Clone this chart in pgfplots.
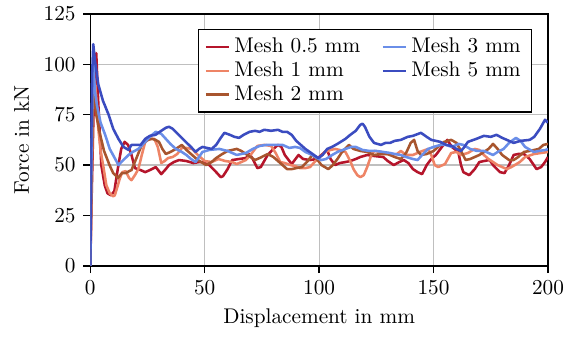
\documentclass[border=0pt]{standalone}
\usepackage{pgfplots}
\pgfplotsset{compat=1.18}
\definecolor{mA}{HTML}{B5152B}
\definecolor{mB}{HTML}{EE8466}
\definecolor{mC}{HTML}{A8552E}
\definecolor{mD}{HTML}{6A8EE8}
\definecolor{mE}{HTML}{3B4CC0}
\begin{document}
\begin{tikzpicture}
\begin{axis}[
  scale only axis,
  width=215.3pt, height=118.5pt,
  xmin=0, xmax=200, ymin=0, ymax=125,
  xtick={0,50,100,150,200},
  ytick={0,25,50,75,100,125},
  tick pos=left, tick align=outside,
  major tick length=3.4pt,
  axis line style={line width=0.7pt},
  every tick/.style={black, line width=0.7pt},
  grid=major,
  major grid style={gray!50, line width=0.6pt},
  xlabel={Displacement in mm},
  ylabel={Force in kN},
  legend image code/.code={\draw[#1] (0cm,0cm) -- (0.38cm,0cm);},
  legend style={at={(0.965,0.94)}, anchor=north east, draw=black, line width=0.6pt, fill=white, font=\normalsize, cells={anchor=west}, row sep=-1.3pt, /tikz/every even column/.append style={column sep=8pt}},
  transpose legend,
  legend columns=3,
  every axis plot/.append style={line width=1.2pt, line join=round},
]
\addplot[mA] coordinates {(0,0) (0.5,30) (1.5,80) (2.6,105.5) (3.4,83) (4.8,50) (6.3,40) (7.5,36) (9,35) (10.5,37) (12,48) (13.5,58) (15,61.5) (16.5,60) (18,55) (19.5,48.5) (22,47.5) (24,46.5) (26,47.5) (28.6,49) (30,47) (31,45.5) (33,48) (34.4,50) (36.5,51.5) (38.8,52.5) (42,52) (45,51) (47.6,51.5) (49,51.5) (52,50) (55,46.5) (57,44) (58,44.5) (60,48) (62,52.5) (65,53) (68,53.5) (69.6,55.5) (71,53) (73,48.5) (74.5,49) (77.5,55) (80,58) (82,60) (83.5,59) (85,55) (88,50.5) (91,55) (93,53) (96,52.5) (99,53) (101,55) (103.5,57.5) (105,53) (107,50) (109,51) (111.5,51.5) (113.6,52) (116,53) (118,54) (121,55) (124,54.5) (128,54) (130,52) (132.6,50) (135,51.5) (137,52.5) (139,51) (141,48) (143,46.5) (145,45.5) (147,50) (149,53) (151,55) (153,58) (156,62.5) (158,59) (160.8,56.5) (162,50) (163,46.5) (165.6,45) (168,48) (170,51.5) (172,52) (174.5,52.5) (176,50) (179,46.5) (181,46) (183,50) (185,55) (187,55.5) (189.5,55.5) (192,53) (195,48) (197,49) (198.7,51.5) (200,54)};
\addlegendentry{Mesh 0.5 mm}
\addplot[mB] coordinates {(0,0) (0.5,35) (1.2,80) (1.8,92) (2.5,85) (3.5,68) (4.5,57) (5.6,50) (7,40) (8.5,36) (10,34.5) (10.7,35) (11.8,39) (12.8,43) (14,46.5) (15.5,47) (17,43.5) (18,42.5) (19.5,45) (21,48) (22.5,55) (24,61.5) (26,63) (28,63) (29.5,59) (31,51) (32.5,52) (34,53.5) (36,54) (38,55.5) (40,58.5) (42,58.5) (44.5,58) (47,55) (50,52) (53,51.5) (56,53) (59,52) (62,51.5) (64,50.5) (66,51.5) (68,52.5) (70,55) (73,59.5) (76,60) (79,59.5) (81,56) (83,51.5) (85,51) (87.5,50) (89.5,49.5) (91.6,48.5) (94,48.5) (96,49) (98,51.5) (100.4,54) (102.6,56.5) (105,57.5) (107,58) (109,57.5) (111.5,56.5) (113.6,52) (115,48) (116.7,45) (118,44) (119.5,45) (121,49) (122.5,54) (124,57) (127,56.5) (131,55) (134,55.5) (135.7,57) (138,55) (141,55) (144,56.5) (147.6,58) (149,55) (150.5,50) (152,49) (155,50.5) (157.7,56) (160,56.5) (162,55) (165,56) (168,58) (170,57.5) (172,55) (174,53) (176,51.5) (178,50) (180,49) (182,48) (184,49) (187.7,51.5) (190,54) (194,55.5) (197,56) (200,56.5)};
\addlegendentry{Mesh 1 mm}
\addplot[mC] coordinates {(0,0) (0.5,40) (1.2,85) (1.6,92) (2.6,75) (4,66.5) (6,57) (8.4,50) (10,46) (11,45) (12,43.5) (13.8,46) (15.5,46) (17,47) (18,47.5) (20,53) (22.5,60) (25,62.5) (27,63) (28.5,62.5) (30,61.5) (31.5,58) (33,55.5) (35,56.5) (37.4,58) (40,60) (42,57.5) (44.5,55) (47,52.5) (50.6,50) (53,51.5) (55,53.5) (57.7,55.5) (60,57) (64,58) (66,57) (68,55.5) (70,54) (72,52.5) (74,53.5) (77.5,55.5) (80,54) (83,51) (86,48) (88,48) (90,48.5) (92.5,49) (95,52) (97,55) (99,53) (101,50) (104,48) (106,50) (108,53) (110,56.5) (113,60) (115,58) (118,57) (121,56.5) (124,55) (127,55.5) (130,55.5) (133,54) (135.7,53) (138,56) (140,61) (141.5,62.5) (143,57) (144.5,55) (147,55.5) (150,57) (152,59) (154.6,61.5) (157.7,62.5) (160,61) (162,57) (164,52.5) (166,53) (168,54) (170,55) (172,56.5) (174,58) (176,60.5) (178,58) (180,55) (183,52.5) (185,52.5) (187,54) (189.5,56.5) (192,57) (194,57.5) (196,58) (198,60) (200,60.5)};
\addlegendentry{Mesh 2 mm}
\addplot[mD] coordinates {(0,0) (0.4,45) (1,90) (1.4,100) (2,86.5) (3,79) (4.5,71) (6.5,65) (8.5,58) (10.9,53) (12.3,50) (14,52) (16.7,55) (18.5,56.5) (21,58) (24,61.5) (26,64) (28.6,66.5) (31,65.5) (33,63) (35,60.5) (37.4,58) (40,56.5) (42,55) (44,53) (46,51.5) (47.5,54) (49,56.5) (52,57.5) (56.4,58) (60,57) (64,55) (66,55.5) (68,56) (71,58) (74,59.5) (77,60) (80,60) (84,60) (87,58.5) (89.5,59) (91.6,58.5) (94,56.5) (97,55) (99,53.5) (101,52.5) (103,53) (105.7,55) (108,56.5) (111.5,58) (114,59) (116,59) (119,57.5) (122,57) (125,57) (128,56.5) (131,56) (133,55.5) (135.7,55) (138,54) (141,53) (143,52.5) (145,55) (147.6,58) (150,59) (153,60) (155.5,60) (158,59) (161,60.5) (163,60) (166,58) (169,57) (172,57) (176,55) (178,56.5) (180.6,58) (183,61) (186,63.5) (188,62) (190,59) (193.8,56.5) (196,57) (199,57.5) (200,58)};
\addlegendentry{Mesh 3 mm}
\addplot[mE] coordinates {(0,0) (0.3,50) (0.8,95) (1.3,110) (2,102) (3.5,90) (5.5,82) (8,75) (10,68) (12.3,63) (14.5,59) (16.7,57.5) (18,60) (20,60) (22,60) (24,63) (26,64.5) (28.5,65) (31,67) (33,68.5) (34.4,69) (36,68) (37.3,66.5) (39.5,64) (41.7,61.5) (44,59) (46,56.5) (47.5,58) (49,59) (51,58.5) (53,58) (55,60) (57,63.5) (58.6,66) (61,65) (63,64) (65,63.5) (67,65) (69.6,66.5) (72,67) (74,66.5) (76,67.5) (79,67) (82,67.5) (84,66.5) (86,66.5) (88,65) (90,62) (92,60) (94,58) (96.5,56) (99.6,53.5) (101.5,55) (103.5,58) (105.6,59) (108,60.5) (111.5,63) (113.6,65) (116,67) (118,70) (119,70.5) (120,69) (122,64) (124,61) (127,60) (129,61) (131,61) (133,62) (135.7,62.5) (138.7,64) (141,64.5) (144.5,66) (147,64) (149,62.5) (151,62) (153,61.5) (155.5,60) (158,59.5) (160,58) (162,57) (163.5,59) (165,61.5) (168.7,63) (172,64.5) (175,64) (177.5,65) (180,63.5) (183,62) (185,61) (188,62) (192,62.5) (194,64) (196.5,68) (198.7,72.5) (200,71)};
\addlegendentry{Mesh 5 mm}
\end{axis}
\path (current bounding box.south west) ++(-3.3pt,-2.4pt);
\end{tikzpicture}
\end{document}
